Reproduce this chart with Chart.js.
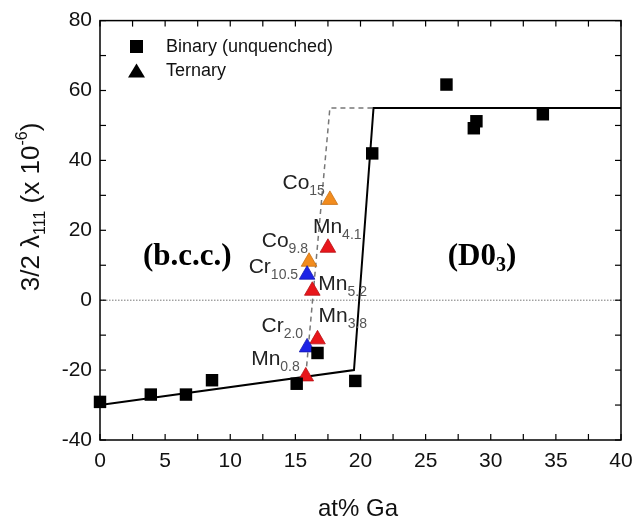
<!DOCTYPE html>
<html><head><meta charset="utf-8">
<script src="https://cdn.jsdelivr.net/npm/chart.js@4"></script>
<style>html,body{margin:0;padding:0;background:#fff}canvas{display:block}</style>
</head><body>
<canvas id="c" width="644" height="521"></canvas>
<script>
// ---- data ----
const binaryX = [0, 3.9, 6.6, 8.6, 15.1, 16.7, 19.6, 20.9, 26.6, 28.9, 28.7, 34.0];
const binaryY = [-29.1, -27.0, -27.0, -22.9, -23.9, -15.1, -23.1, 42.0, 61.7, 51.2, 49.2, 53.2];

const ternaryX = [17.65, 17.5, 16.05, 15.9, 16.3, 16.7, 15.9, 15.8];
const ternaryY = [28.7, 15.0, 11.0, 7.3, 2.7, -11.2, -13.5, -21.8];
const ternaryElem = ['Co', 'Mn', 'Co', 'Cr', 'Mn', 'Mn', 'Cr', 'Mn'];
const ternarySub = ['15', '4.1', '9.8', '10.5', '5.2', '3.8', '2.0', '0.8'];

const solidX = [0, 19.5, 21.0, 40];
const solidY = [-30, -20, 55, 55];
const dashedX = [15.8, 17.65, 21.0];
const dashedY = [-21.5, 55, 55];
const zeroX = [0, 40];
const zeroY = [0, 0];

const xTicks = [0, 5, 10, 15, 20, 25, 30, 35, 40];
const yTicks = [-40, -20, 0, 20, 40, 60, 80];

const seriesNames = ['Binary (unquenched)', 'Ternary'];
const phaseLabels = [{main: '(b.c.c.)', sub: '', tail: '', x: 3.3, y: 10.1},
                     {main: '(D0', sub: '3', tail: ')', x: 26.7, y: 10.1}];

// ---- styles ----
const elemColor = {Co: '#f28c1e', Mn: '#e8161b', Cr: '#1c22e6'};
const elemBorder = {Co: '#c86e10', Mn: '#b81014', Cr: '#1418b0'};
const SANS = "'Liberation Sans', Arial, sans-serif";
const SERIF = "'Liberation Serif', 'Times New Roman', serif";

const pts = (xs, ys) => xs.map((x, i) => ({x, y: ys[i]}));

// label offsets (pixels relative to the marker): [dx, dy(baseline), align]
const labelOffsets = [
  [-5, -11, 'right'], [-15, -15, 'left'], [-1, -15, 'right'], [-9, -2, 'right'],
  [6, -1, 'left'], [1, -17, 'left'], [-4, -15, 'right'], [-6, -11, 'right']
];

const decor = {
  id: 'decor',
  afterDraw(chart) {
    const {ctx, chartArea: a, scales: {x, y}} = chart;
    ctx.save();
    // frame
    ctx.strokeStyle = '#000';
    ctx.lineWidth = 1.5;
    ctx.strokeRect(a.left, a.top, a.right - a.left, a.bottom - a.top);
    // inward ticks on all four sides
    ctx.lineWidth = 1.2;
    const seg = (x1, y1, x2, y2) => { ctx.beginPath(); ctx.moveTo(x1, y1); ctx.lineTo(x2, y2); ctx.stroke(); };
    for (let v = x.min; v <= x.max + 1e-9; v += 2.5) {
      const px = x.getPixelForValue(v);
      seg(px, a.bottom, px, a.bottom - 6);
      seg(px, a.top, px, a.top + 6);
    }
    for (let v = y.min; v <= y.max + 1e-9; v += 10) {
      const py = y.getPixelForValue(v);
      seg(a.left, py, a.left + 6, py);
      seg(a.right, py, a.right - 6, py);
    }

    // ternary labels with subscripts
    ternaryElem.forEach((el, i) => {
      const px = x.getPixelForValue(ternaryX[i]);
      const py = y.getPixelForValue(ternaryY[i]);
      const [dx, dy, align] = labelOffsets[i];
      ctx.font = '21px ' + SANS;
      const wm = ctx.measureText(el).width;
      ctx.font = '14px ' + SANS;
      const ws = ctx.measureText(ternarySub[i]).width;
      let x0 = align === 'left' ? px + dx : px + dx - wm - ws;
      const base = py + dy;
      ctx.textAlign = 'left';
      ctx.textBaseline = 'alphabetic';
      ctx.fillStyle = '#222';
      ctx.font = '21px ' + SANS;
      ctx.fillText(el, x0, base);
      ctx.fillStyle = '#555';
      ctx.font = '14px ' + SANS;
      ctx.fillText(ternarySub[i], x0 + wm, base + 6);
    });

    // phase labels
    phaseLabels.forEach(p => {
      const px = x.getPixelForValue(p.x);
      const py = y.getPixelForValue(p.y);
      ctx.fillStyle = '#000';
      ctx.textAlign = 'left';
      ctx.textBaseline = 'alphabetic';
      ctx.font = 'bold 31px ' + SERIF;
      ctx.fillText(p.main, px, py);
      let cx = px + ctx.measureText(p.main).width;
      if (p.sub) {
        ctx.font = 'bold 20px ' + SERIF;
        ctx.fillText(p.sub, cx, py + 6);
        cx += ctx.measureText(p.sub).width;
      }
      if (p.tail) {
        ctx.font = 'bold 31px ' + SERIF;
        ctx.fillText(p.tail, cx, py);
      }
    });

    // legend
    ctx.fillStyle = '#000';
    ctx.fillRect(130, 40, 13, 13);
    ctx.beginPath();
    ctx.moveTo(136.5, 63.5); ctx.lineTo(145, 77.5); ctx.lineTo(128, 77.5); ctx.closePath(); ctx.fill();
    ctx.font = '18px ' + SANS;
    ctx.textBaseline = 'middle';
    ctx.fillStyle = '#111';
    ctx.fillText(chart.data.datasets[0].label, 166, 47);
    ctx.fillText(chart.data.datasets[1].label, 166, 71);

    // x-axis title
    ctx.font = '24px ' + SANS;
    ctx.textAlign = 'center';
    ctx.textBaseline = 'middle';
    ctx.fillStyle = '#111';
    ctx.fillText('at% Ga', 358, 509);

    // y-axis title (rotated, with sub/superscript)
    const parts = [['3/2 \u03bb', 26, 0], ['111', 16, 6], [' (x 10', 26, 0], ['-6', 16, -12], [')', 26, 0]];
    let total = 0;
    parts.forEach(p => { ctx.font = p[1] + 'px ' + SANS; total += ctx.measureText(p[0]).width; });
    ctx.translate(39, 207);
    ctx.rotate(-Math.PI / 2);
    ctx.textAlign = 'left';
    ctx.textBaseline = 'alphabetic';
    let u = -total / 2;
    parts.forEach(p => {
      ctx.font = p[1] + 'px ' + SANS;
      ctx.fillText(p[0], u, p[2]);
      u += ctx.measureText(p[0]).width;
    });
    ctx.restore();
  }
};

new Chart(document.getElementById('c'), {
  type: 'scatter',
  data: {
    datasets: [
      {
        label: seriesNames[0], data: pts(binaryX, binaryY), clip: false,
        pointStyle: 'rect', pointRadius: 8.8, backgroundColor: '#000', borderColor: '#000', borderWidth: 0
      },
      {
        label: seriesNames[1], data: pts(ternaryX, ternaryY), clip: false,
        pointStyle: 'triangle', pointRadius: 9,
        backgroundColor: ternaryElem.map(e => elemColor[e]),
        borderColor: ternaryElem.map(e => elemBorder[e]), borderWidth: 0.8
      },
      {
        label: 'fit', data: pts(solidX, solidY), showLine: true, pointRadius: 0,
        borderColor: '#000', borderWidth: 2, tension: 0
      },
      {
        label: 'ternary boundary', data: pts(dashedX, dashedY), showLine: true, pointRadius: 0,
        borderColor: '#777', borderWidth: 1.5, borderDash: [5, 4], tension: 0
      },
      {
        label: 'zero', data: pts(zeroX, zeroY), showLine: true, pointRadius: 0,
        borderColor: '#777', borderWidth: 1, borderDash: [1.5, 1.5], tension: 0
      }
    ]
  },
  options: {
    responsive: false,
    animation: false,
    events: [],
    layout: {padding: {top: 19, right: 23, left: 0, bottom: 0}},
    plugins: {legend: {display: false}, tooltip: {enabled: false}},
    scales: {
      x: {
        type: 'linear', min: 0, max: 40,
        afterBuildTicks: s => { s.ticks = xTicks.map(v => ({value: v})); },
        afterFit: s => { s.height = 81; },
        ticks: {font: {family: SANS, size: 21}, color: '#111', padding: 9, maxRotation: 0},
        grid: {display: false, drawTicks: false},
        border: {display: false}
      },
      y: {
        type: 'linear', min: -40, max: 80,
        afterBuildTicks: s => { s.ticks = yTicks.map(v => ({value: v})); },
        afterFit: s => { s.width = 100; },
        ticks: {font: {family: SANS, size: 21}, color: '#111', padding: 8},
        grid: {display: false, drawTicks: false},
        border: {display: false}
      }
    }
  },
  plugins: [decor]
});
</script>
</body></html>
